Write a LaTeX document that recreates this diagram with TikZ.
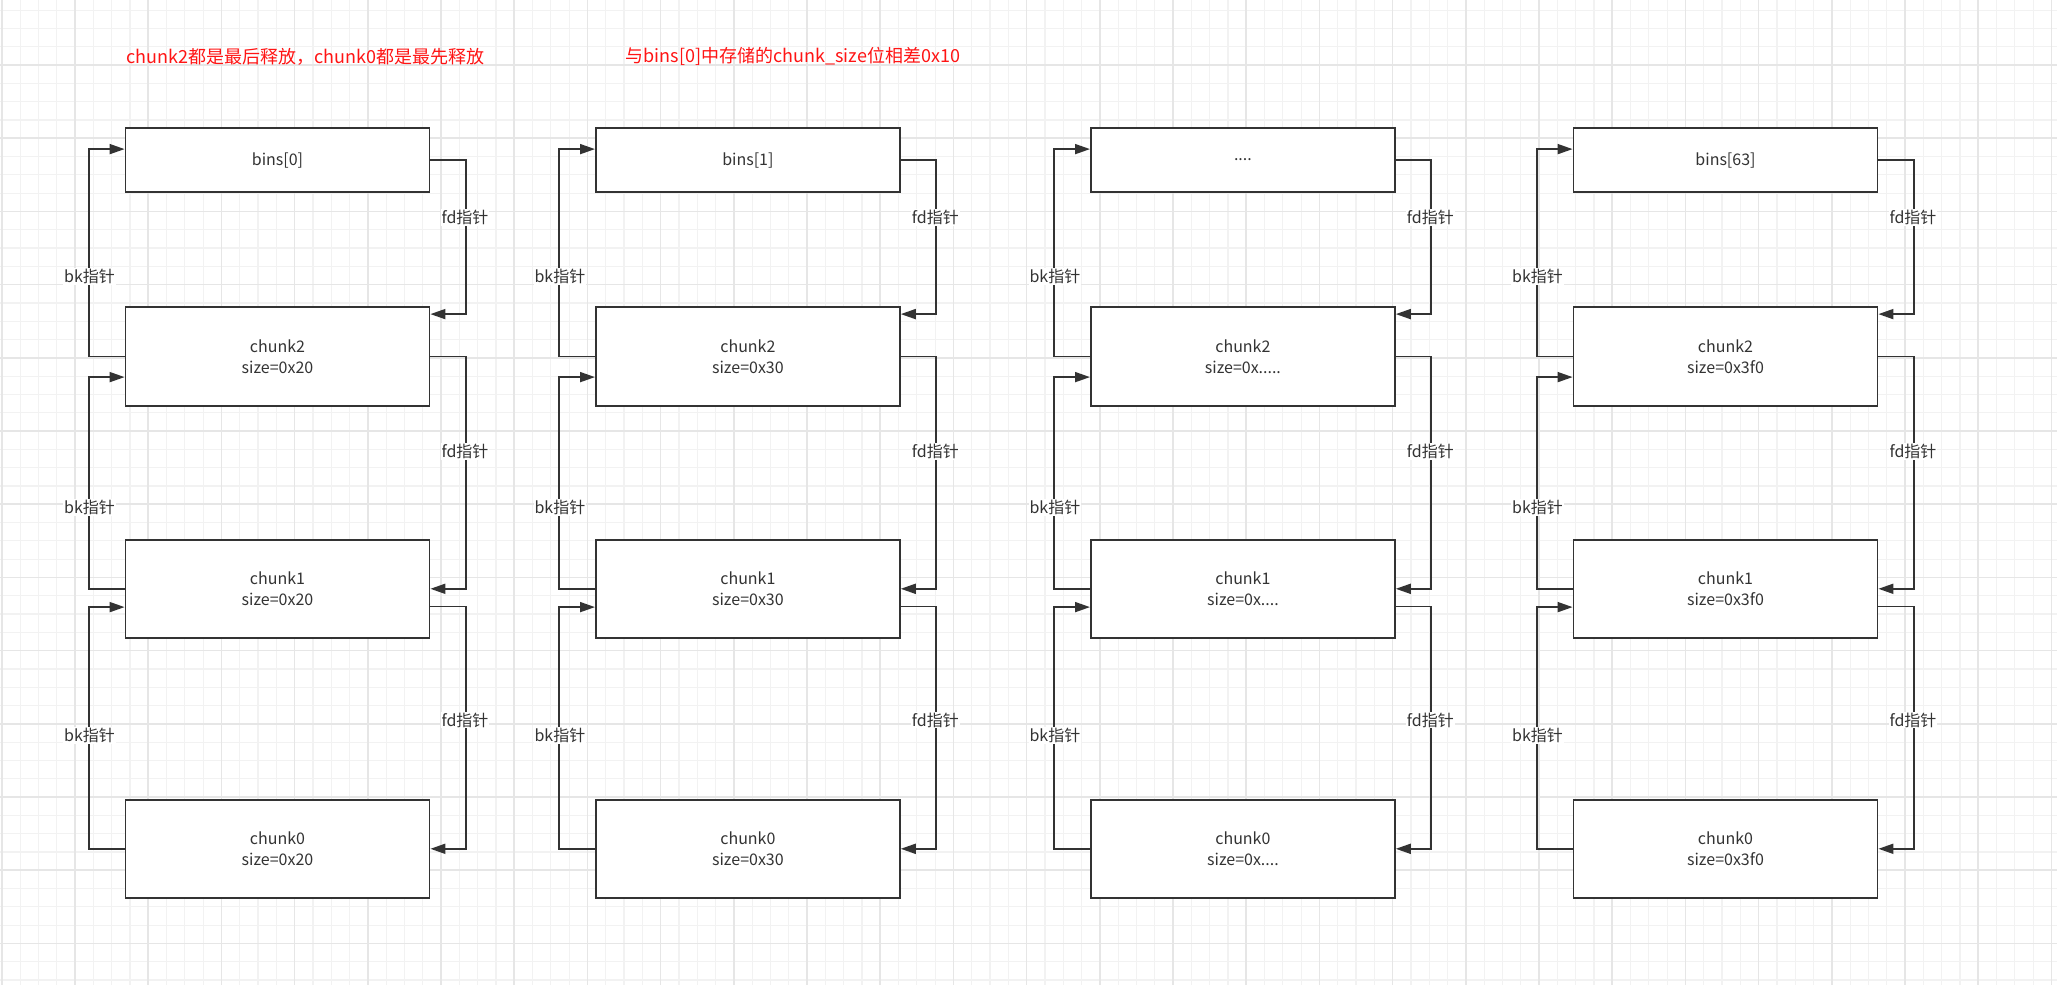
\documentclass[tikz,border=0pt]{standalone}
\usepackage{fontspec}
\setmainfont{Noto Sans CJK SC}
\usetikzlibrary{arrows.meta,calc}
\definecolor{ink}{RGB}{51,51,51}
\definecolor{gmin}{RGB}{242,242,242}
\definecolor{gmaj}{RGB}{230,230,230}
\definecolor{redtxt}{RGB}{255,20,20}
\newcommand\mkcolumn[6]{%
  \node[binbox] (b#1) at (#2,160) {#3};
  \node[chunkbox] (ctwo#1) at (#2,356.5) {chunk2\\size=#4};
  \node[chunkbox] (cone#1) at (#2,588.8) {chunk1\\size=#5};
  \node[chunkbox] (czero#1) at (#2,848.8) {chunk0\\size=#6};
  \draw[link] (b#1.east) -- ++(35.5,0) |- ($(ctwo#1.north east)+(0,7.7)$);
  \draw[link] (ctwo#1.west) -- ++(-36,0) |- ($(b#1.north west)+(0,22.3)$);
  \draw[link] (ctwo#1.east) -- ++(35.5,0) |- (cone#1.east);
  \draw[link] (cone#1.west) -- ++(-36,0) |- ($(ctwo#1.north west)+(0,70.7)$);
  \draw[link] ($(cone#1.north east)+(0,67.7)$) -- ++(35.5,0) |- (czero#1.east);
  \draw[link] (czero#1.west) -- ++(-36,0) |- ($(cone#1.north west)+(0,68.4)$);
  \node[lab] (fdA#1) at ({#2+187.5},217.3) {fd指针};
  \node[lab] (bkA#1) at ({#2-188},276.7) {bk指针};
  \node[lab] (fdB#1) at ({#2+187.5},451.3) {fd指针};
  \node[lab] (bkB#1) at ({#2-188},507.7) {bk指针};
  \node[lab] (fdC#1) at ({#2+187.5},720) {fd指针};
  \node[lab] (bkC#1) at ({#2-188},735.3) {bk指针};
}
\begin{document}
\begin{tikzpicture}[x=1pt,y=-1pt,
  box/.style={draw=ink, line width=1.8pt, fill=white, minimum width=304pt, text=ink,
    font=\fontsize{16}{20.6}\selectfont, align=center, inner sep=0pt},
  binbox/.style={box, minimum height=64.6pt},
  chunkbox/.style={box, minimum height=98.4pt},
  link/.style={draw=ink, line width=1.8pt, -{Triangle[length=15pt,width=10pt]}},
  lab/.style={fill=white, text=ink, font=\fontsize{16}{19}\selectfont, inner sep=1pt},
  note/.style={text=redtxt, font=\fontsize{18}{22}\selectfont, inner sep=0pt}]
\useasboundingbox (0,0) rectangle (2057,985);
\fill[white] (0,0) rectangle (2057,985);
% grid
\foreach \i in {0,...,112} \draw[gmin, line width=1.2pt] ({1.8+18.3*\i},0) -- ({1.8+18.3*\i},985);
\foreach \i in {0,...,53} \draw[gmin, line width=1.2pt] (0,{10.1+18.3*\i}) -- (2057,{10.1+18.3*\i});
\foreach \i in {0,...,28} \draw[gmaj, line width=1.6pt] ({1.8+73.2*\i},0) -- ({1.8+73.2*\i},985);
\foreach \i in {0,...,13} \draw[gmaj, line width=1.6pt] (0,{-8.2+73.2*\i}) -- (2057,{-8.2+73.2*\i});
% notes
\node[note] (noteA) at (305.5,56.7) {chunk2都是最后释放，chunk0都是最先释放};
\node[note] (noteB) at (792.9,56.7) {与bins[0]中存储的chunk\_size位相差0x10};
% columns
\mkcolumn{A}{277.5}{bins[0]}{0x20}{0x20}{0x20}
\mkcolumn{B}{747.9}{bins[1]}{0x30}{0x30}{0x30}
\mkcolumn{C}{1242.9}{....}{0x.....}{0x....}{0x....}
\mkcolumn{D}{1725.5}{bins[63]}{0x3f0}{0x3f0}{0x3f0}
\end{tikzpicture}
\end{document}
